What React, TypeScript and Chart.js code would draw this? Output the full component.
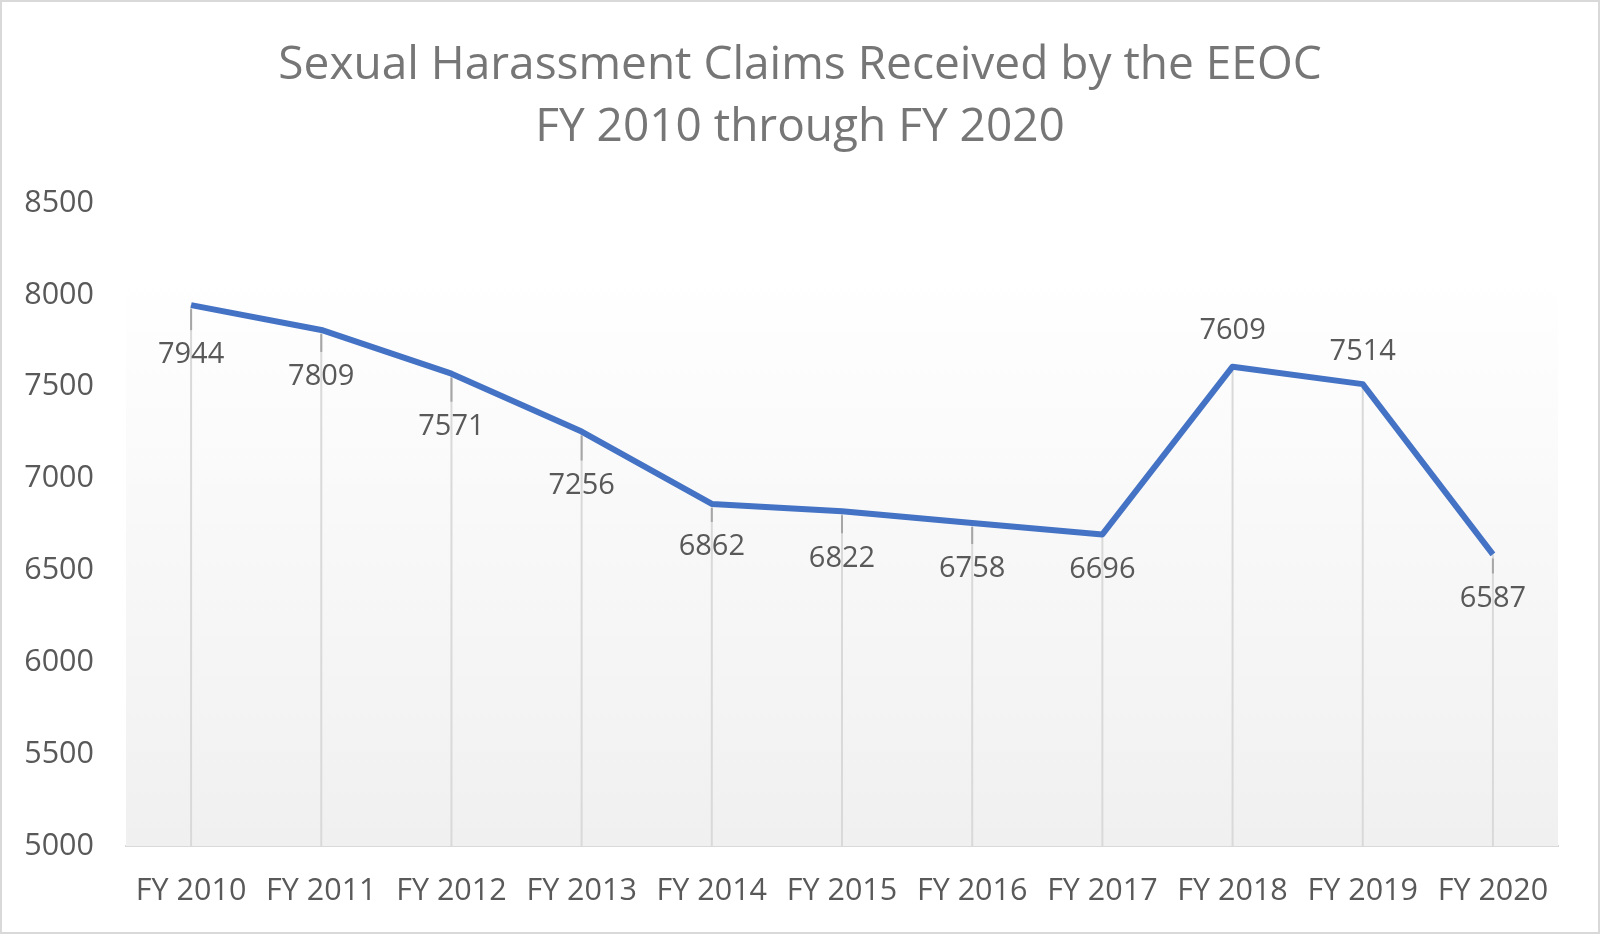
import React, { useEffect, useRef } from "react";
import { Chart, ChartOptions, Plugin } from "chart.js/auto";

// data
const years = ["FY 2010", "FY 2011", "FY 2012", "FY 2013", "FY 2014", "FY 2015", "FY 2016", "FY 2017", "FY 2018", "FY 2019", "FY 2020"];
const claims = [7944, 7809, 7571, 7256, 6862, 6822, 6758, 6696, 7609, 7514, 6587];
const titleLines = ["Sexual Harassment Claims Received by the EEOC", "FY 2010 through FY 2020"];

// label placement (px from the point; negative = above), as moved by hand in the original
const labelGap = [50, 47, 53, 54, 43, 47, 46, 35, -36, -32, 44];

const FONT = "'Open Sans', 'Noto Sans', sans-serif";
const TEXT = "#595959";

// title centred on the whole canvas (the built-in one centres on the padded box)
const centredTitle: Plugin<"line"> = {
  id: "centredTitle",
  afterDraw(chart) {
    const { ctx } = chart;
    ctx.save();
    ctx.font = `46px ${FONT}`;
    ctx.fillStyle = "#767676";
    ctx.textAlign = "center";
    ctx.textBaseline = "middle";
    titleLines.forEach((line, i) => ctx.fillText(line, chart.width / 2, 66 + i * 61.6));
    ctx.restore();
  },
};

// gradient plot background, drop lines, data labels with leader lines
const excelLook: Plugin<"line"> = {
  id: "excelLook",
  beforeDatasetsDraw(chart) {
    const { ctx, chartArea } = chart;
    const top = chartArea.top + 70;
    const g = ctx.createLinearGradient(0, top, 0, chartArea.bottom);
    g.addColorStop(0, "#ffffff");
    g.addColorStop(1, "#f0f0f0");
    ctx.save();
    ctx.fillStyle = g;
    ctx.fillRect(chartArea.left, top, chartArea.right - chartArea.left, chartArea.bottom - top);

    const meta = chart.getDatasetMeta(0);
    ctx.strokeStyle = "#d9d9d9";
    ctx.lineWidth = 2;
    meta.data.forEach((pt) => {
      ctx.beginPath();
      ctx.moveTo(pt.x, pt.y);
      ctx.lineTo(pt.x, chartArea.bottom);
      ctx.stroke();
    });
    ctx.restore();
  },
  afterDatasetsDraw(chart) {
    const { ctx } = chart;
    const meta = chart.getDatasetMeta(0);
    ctx.save();
    ctx.font = `29px ${FONT}`;
    ctx.fillStyle = TEXT;
    ctx.textAlign = "center";
    ctx.textBaseline = "middle";
    meta.data.forEach((pt, i) => {
      const gap = labelGap[i];
      if (gap > 40) {
        ctx.strokeStyle = "#a6a6a6";
        ctx.lineWidth = 2;
        ctx.beginPath();
        ctx.moveTo(pt.x, pt.y + 4);
        ctx.lineTo(pt.x, pt.y + gap - 25);
        ctx.stroke();
      }
      ctx.fillText(String(claims[i]), pt.x, pt.y + gap);
    });
    ctx.restore();
  },
};

function SexualHarassmentChart() {
  const canvasRef = useRef<HTMLCanvasElement | null>(null);

  useEffect(() => {
    let chart: Chart | null = null;
    let dead = false;

    const build = () => {
      const ctx = canvasRef.current?.getContext("2d");
      if (!ctx || dead) return;

      const options: ChartOptions<"line"> = {
        responsive: false,
        animation: false,
        layout: { padding: { left: 0, right: 42, top: 203, bottom: 0 } },
        scales: {
          x: {
            offset: true,
            grid: { color: "rgba(0,0,0,0)", drawTicks: false },
            border: { display: true, color: "#d9d9d9", width: 2 },
            ticks: {
              color: TEXT,
              font: { family: FONT, size: 30.5 },
              padding: 27,
              autoSkip: false,
              maxRotation: 0,
            },
            afterFit: (scale) => { scale.height = 88; },
          },
          y: {
            min: 5000,
            max: 8500,
            grid: { display: false, drawTicks: false },
            border: { display: false },
            ticks: {
              stepSize: 500,
              color: TEXT,
              font: { family: FONT, size: 30.5 },
              padding: 32,
              callback: (v) => String(v),
            },
            afterFit: (scale) => { scale.width = 126; },
          },
        },
        plugins: {
          legend: { display: false },
          tooltip: { enabled: false },
          title: { display: false },
        },
      };

      chart = new Chart(ctx, {
        type: "line",
        data: {
          labels: years,
          datasets: [
            {
              label: "Claims",
              data: claims,
              borderColor: "#4472c4",
              borderWidth: 6,
              pointRadius: 0,
              tension: 0,
              borderJoinStyle: "round",
            },
          ],
        },
        options,
        plugins: [excelLook, centredTitle],
      });
    };

    document.fonts.load(`29px "Open Sans"`).then(build, build);
    return () => { dead = true; chart?.destroy(); chart = null; };
  }, []);

  return <canvas ref={canvasRef} width={1600} height={934} style={{ width: 1600, height: 934, display: "block" }} />;
}

export default function App() {
  return (
    <div style={{ position: "absolute", left: 0, top: 0, width: 1600, height: 934, background: "#fff" }}>
      <SexualHarassmentChart />
      <div style={{ position: "absolute", inset: 0, border: "2px solid #d9d9d9", pointerEvents: "none" }} />
    </div>
  );
}
